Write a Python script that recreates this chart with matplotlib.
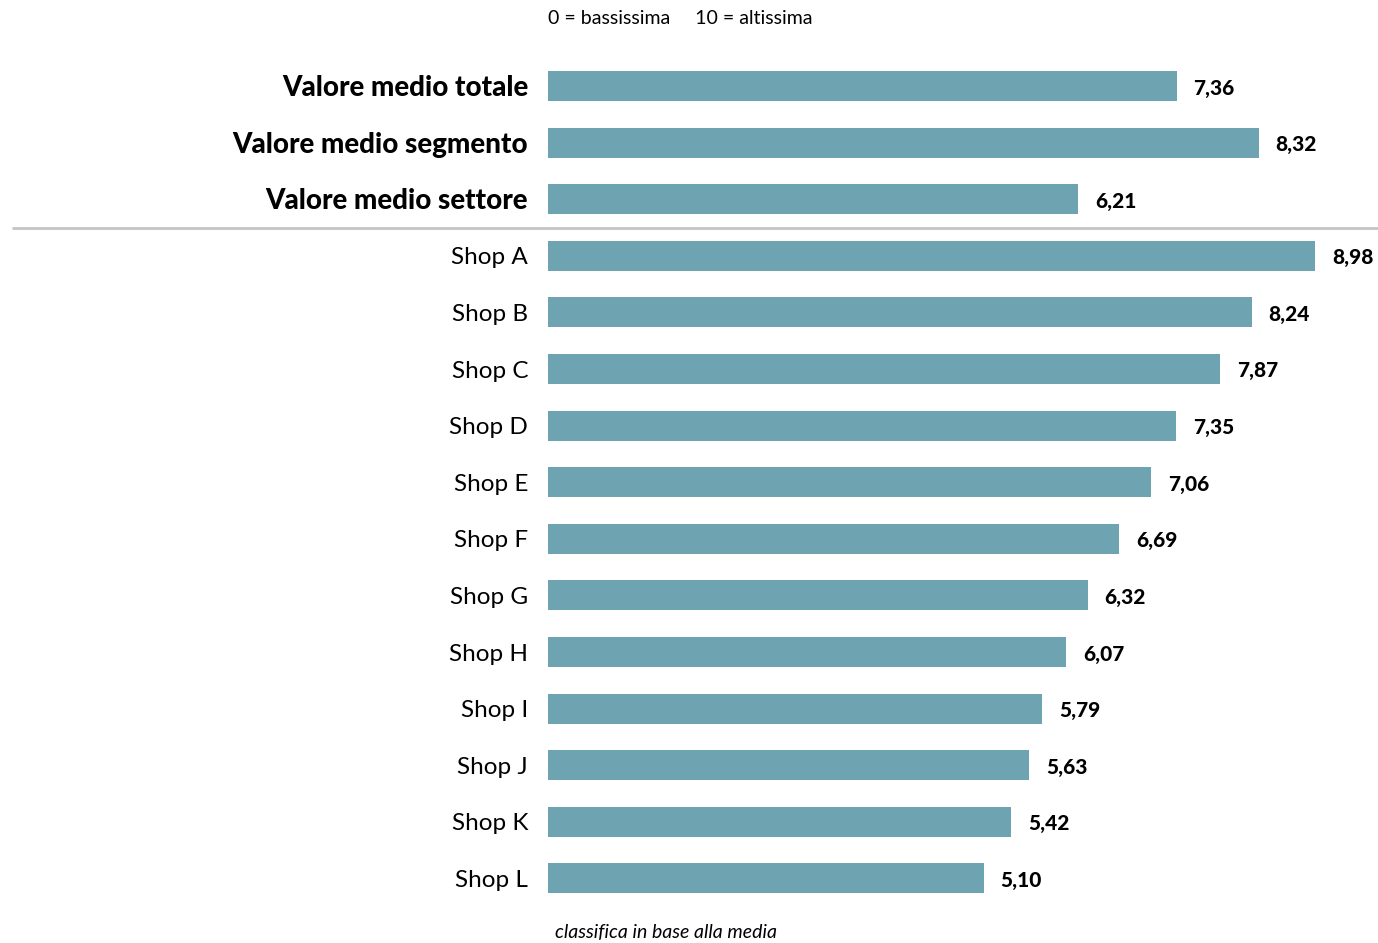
import matplotlib.pyplot as plt

plt.rcParams['font.family'] = ['Lato', 'DejaVu Sans']

labels = ["Valore medio totale", "Valore medio segmento", "Valore medio settore",
          "Shop A", "Shop B", "Shop C", "Shop D", "Shop E", "Shop F",
          "Shop G", "Shop H", "Shop I", "Shop J", "Shop K", "Shop L"]
values = [7.36, 8.32, 6.21, 8.98, 8.24, 7.87, 7.35, 7.06, 6.69,
          6.32, 6.07, 5.79, 5.63, 5.42, 5.10]
n_summary = 3

bar_color = "#6EA4B2"

fig = plt.figure(figsize=(13.78, 9.43), dpi=100)
ax = fig.add_axes([0, 0, 1, 1])

px = 85.4     # pixels per unit on x
row = 56.6    # pixels per row
x0, y0 = 548, 86
ax.set_xlim(-x0 / px, (1378 - x0) / px)
ax.set_ylim((943 - y0) / row, -y0 / row)
ax.axis('off')

ypos = list(range(len(values)))
ax.barh(ypos, values, height=0.53, color=bar_color)

dy = 2 / row  # text sits a touch lower than bar centre
for i, (lab, v) in enumerate(zip(labels, values)):
    bold = i < n_summary
    ax.text(-20 / px, i + dy, lab, ha='right', va='center',
            fontsize=20 if bold else 17.5,
            fontweight='black' if bold else 'normal')
    ax.text(v + 17 / px, i + dy, "{:.2f}".format(v).replace('.', ','),
            ha='left', va='center', fontsize=15, fontweight='black')

# separator between averages and shops
ax.plot([(12 - x0) / px, (1378 - x0) / px], [n_summary - 0.5] * 2,
        color='#c4c4c4', lw=2, solid_capstyle='butt')

ax.text(0, (19 - y0) / row, "0 = bassissima     10 = altissima",
        ha='left', va='center', fontsize=14)
ax.text(7 / px, (932 - y0) / row, "classifica in base alla media",
        ha='left', va='center', fontsize=14, style='italic')

fig.savefig("out.png", dpi=100)
